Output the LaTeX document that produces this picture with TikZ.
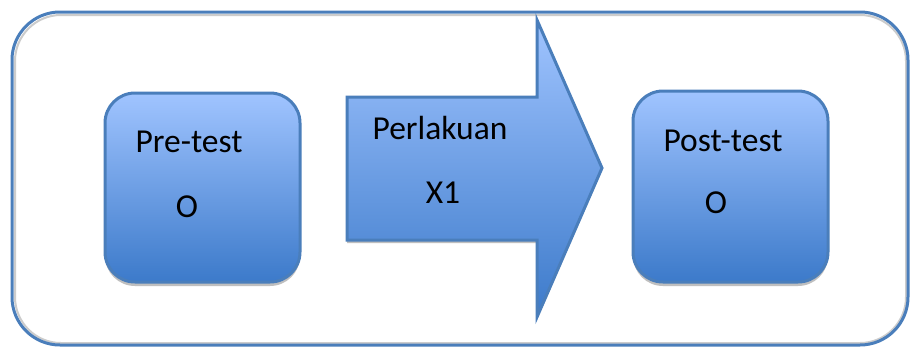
\documentclass[tikz,border=0pt]{standalone}
\usepackage{fontspec}
\setmainfont{Carlito}
\definecolor{frameblue}{RGB}{74,126,187}
\definecolor{lightblue}{RGB}{160,196,255}
\definecolor{darkblue}{RGB}{60,122,202}
\begin{document}
\begin{tikzpicture}[x=1pt,y=-1pt,
    boxline/.style={draw=frameblue,line width=3pt},
    testbox/.style={boxline,rounded corners=30pt,top color=lightblue,bottom color=darkblue},
    boxshadow/.style={fill=black!25,rounded corners=30pt},
    label/.style={font=\fontsize{33.5}{40}\selectfont,anchor=base,inner sep=0pt}]
    \useasboundingbox (0,0) rectangle (911,349);
    \fill[white] (0,0) rectangle (911,349);

    % outer frame
    \draw[black!20,line width=2pt,rounded corners=46pt] (15,15) rectangle (906,343);
    \draw[boxline,rounded corners=48pt] (12,12) rectangle (908,345);

    % pre-test and post-test boxes
    \foreach\x in {105,633}
    {   \fill[boxshadow] (\x,96) rectangle ++(195,190);
    }
    \draw[testbox] (105,93) rectangle (300,282);
    \draw[testbox] (633,91) rectangle (828,282);
    \node[label] (pre) at (189,152) {Pre-test};
    \node[label] (preO) at (187,217) {O};
    \node[label] (post) at (723,151) {Post-test};
    \node[label] (postO) at (716,213) {O};

    % perlakuan arrow
    \fill[black!25] (347,100) -- (537,100) -- (537,23) -- (602,171) -- (537,320) -- (537,243) -- (347,243) -- cycle;
    \draw[boxline,top color=lightblue,bottom color=darkblue,line join=miter]
        (347,97) -- (537,97) -- (537,20) -- (602,168) -- (537,317) -- (537,240) -- (347,240) -- cycle;
    \node[label] (act) at (440,139) {Perlakuan};
    \node[label] (actX) at (443,203) {X1};
\end{tikzpicture}
\end{document}
